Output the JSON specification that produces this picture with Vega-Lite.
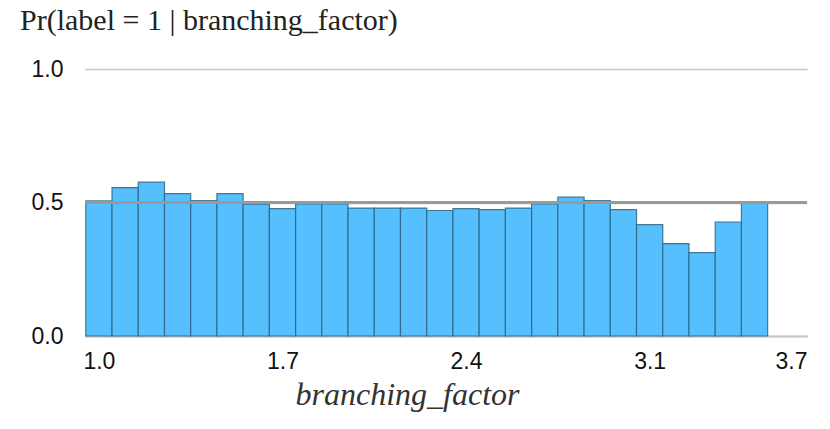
{
  "$schema": "https://vega.github.io/schema/vega-lite/v6.json",
  "autosize": "none",
  "width": 722,
  "height": 267,
  "padding": {"left": 85, "top": 69, "right": 23, "bottom": 93},
  "background": "white",
  "title": {
    "text": "Pr(label = 1 | branching_factor)",
    "anchor": "start",
    "frame": "group",
    "dx": -65,
    "offset": 22,
    "font": "Liberation Serif",
    "fontSize": 30,
    "fontWeight": "normal",
    "color": "#222222"
  },
  "data": {
    "values": [
      {"bin_start": 0.95, "bin_end": 1.05, "p": 0.506},
      {"bin_start": 1.05, "bin_end": 1.15, "p": 0.556},
      {"bin_start": 1.15, "bin_end": 1.25, "p": 0.576},
      {"bin_start": 1.25, "bin_end": 1.35, "p": 0.533},
      {"bin_start": 1.35, "bin_end": 1.45, "p": 0.507},
      {"bin_start": 1.45, "bin_end": 1.55, "p": 0.533},
      {"bin_start": 1.55, "bin_end": 1.65, "p": 0.494},
      {"bin_start": 1.65, "bin_end": 1.75, "p": 0.477},
      {"bin_start": 1.75, "bin_end": 1.85, "p": 0.495},
      {"bin_start": 1.85, "bin_end": 1.95, "p": 0.495},
      {"bin_start": 1.95, "bin_end": 2.05, "p": 0.479},
      {"bin_start": 2.05, "bin_end": 2.15, "p": 0.479},
      {"bin_start": 2.15, "bin_end": 2.25, "p": 0.479},
      {"bin_start": 2.25, "bin_end": 2.35, "p": 0.470},
      {"bin_start": 2.35, "bin_end": 2.45, "p": 0.477},
      {"bin_start": 2.45, "bin_end": 2.55, "p": 0.473},
      {"bin_start": 2.55, "bin_end": 2.65, "p": 0.479},
      {"bin_start": 2.65, "bin_end": 2.75, "p": 0.495},
      {"bin_start": 2.75, "bin_end": 2.85, "p": 0.520},
      {"bin_start": 2.85, "bin_end": 2.95, "p": 0.507},
      {"bin_start": 2.95, "bin_end": 3.05, "p": 0.473},
      {"bin_start": 3.05, "bin_end": 3.15, "p": 0.417},
      {"bin_start": 3.15, "bin_end": 3.25, "p": 0.346},
      {"bin_start": 3.25, "bin_end": 3.35, "p": 0.312},
      {"bin_start": 3.35, "bin_end": 3.45, "p": 0.427},
      {"bin_start": 3.45, "bin_end": 3.55, "p": 0.497}
    ]
  },
  "config": {
    "view": {"stroke": null},
    "axis": {
      "labelFont": "Liberation Sans",
      "labelFontSize": 23,
      "labelColor": "#111111",
      "ticks": false,
      "grid": false
    }
  },
  "layer": [
    {
      "mark": {"type": "bar", "fill": "#56bffd", "stroke": "#2b6587", "strokeWidth": 1.2, "strokeOpacity": 0.85},
      "encoding": {
        "x": {
          "field": "bin_start",
          "type": "quantitative",
          "scale": {"domain": [0.947, 3.7], "nice": false, "zero": false},
          "axis": {
            "values": [1.0, 1.7, 2.4, 3.1, 3.7],
            "format": ".1f",
            "domain": true,
            "domainColor": "#c8c8c8",
            "domainWidth": 2,
            "labelPadding": 14,
            "labelFlush": true,
            "title": "branching_factor",
            "titleFont": "Liberation Serif",
            "titleFontStyle": "italic",
            "titleFontWeight": "normal",
            "titleFontSize": 32,
            "titleColor": "#333333",
            "titlePadding": 6,
            "titleX": 322
          }
        },
        "x2": {"field": "bin_end"},
        "y": {
          "field": "p",
          "type": "quantitative",
          "scale": {"domain": [0, 1], "nice": false},
          "axis": {
            "values": [0, 0.5, 1.0],
            "format": ".1f",
            "domain": false,
            "grid": true,
            "gridColor": "#c8c8c8",
            "gridWidth": 1.5,
            "labelPadding": 22,
            "title": null
          }
        },
        "y2": {"datum": 0}
      }
    },
    {
      "mark": {"type": "rule", "color": "#999999", "strokeWidth": 2},
      "encoding": {"y": {"datum": 0.5}}
    }
  ]
}
